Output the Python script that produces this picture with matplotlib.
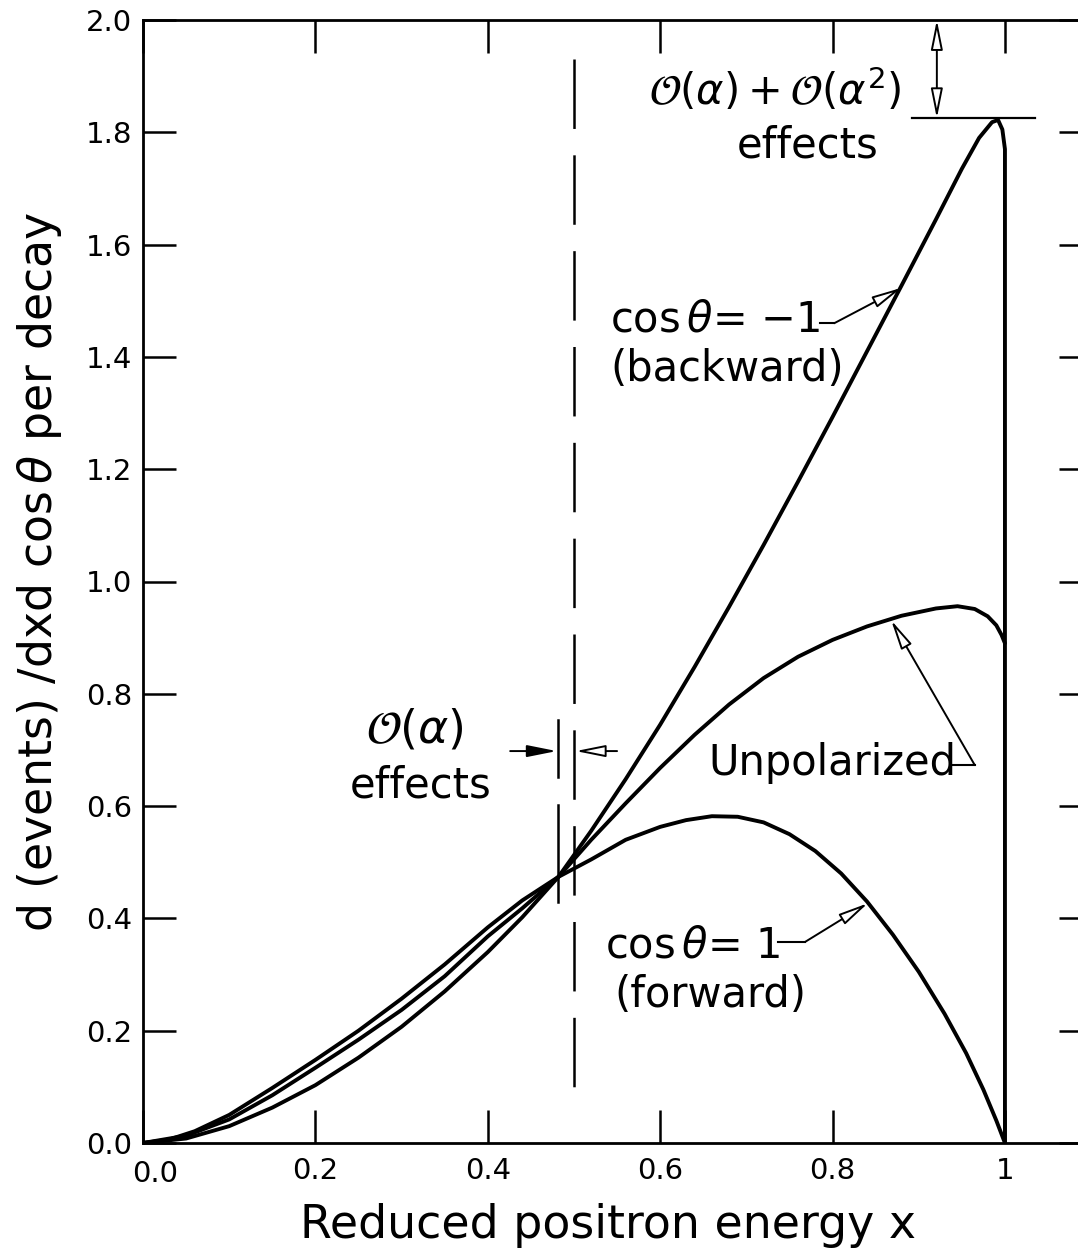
import matplotlib
matplotlib.use('Agg')
import matplotlib.pyplot as plt

plt.rcParams['font.family'] = ['DejaVu Sans']
plt.rcParams['mathtext.fontset'] = 'dejavusans'
plt.rcParams['lines.scale_dashes'] = False

# ---- data ----
forward_x = [0.0, 0.03, 0.06, 0.10, 0.15, 0.20, 0.25, 0.30, 0.35, 0.40, 0.44, 0.482,
             0.52, 0.56, 0.60, 0.63, 0.66, 0.69, 0.72, 0.75, 0.78, 0.81, 0.84, 0.87,
             0.90, 0.93, 0.955, 0.975, 0.99, 1.0]
forward_y = [0.0, 0.006, 0.021, 0.050, 0.098, 0.148, 0.200, 0.257, 0.318, 0.384, 0.432, 0.474,
             0.505, 0.540, 0.563, 0.575, 0.582, 0.581, 0.571, 0.550, 0.520, 0.480, 0.430, 0.371,
             0.305, 0.230, 0.160, 0.095, 0.040, 0.0]

unpol_x = [0.0, 0.05, 0.10, 0.15, 0.20, 0.25, 0.30, 0.35, 0.40, 0.44, 0.482,
           0.52, 0.56, 0.60, 0.64, 0.68, 0.72, 0.76, 0.80, 0.84, 0.88, 0.92, 0.945,
           0.965, 0.98, 0.99, 0.996, 1.0]
unpol_y = [0.0, 0.013, 0.042, 0.085, 0.134, 0.184, 0.237, 0.297, 0.368, 0.418, 0.474,
           0.540, 0.605, 0.668, 0.727, 0.781, 0.828, 0.866, 0.896, 0.920, 0.939, 0.952, 0.956,
           0.951, 0.938, 0.922, 0.905, 0.890]

back_x = [0.0, 0.05, 0.10, 0.15, 0.20, 0.25, 0.30, 0.35, 0.40, 0.44, 0.482,
          0.52, 0.56, 0.60, 0.64, 0.68, 0.72, 0.76, 0.80, 0.84, 0.88, 0.92, 0.95,
          0.97, 0.985, 0.992, 0.997, 1.0, 1.0]
back_y = [0.0, 0.008, 0.030, 0.063, 0.103, 0.152, 0.207, 0.270, 0.340, 0.402, 0.474,
          0.556, 0.648, 0.745, 0.848, 0.955, 1.065, 1.178, 1.293, 1.410, 1.527, 1.645, 1.735,
          1.790, 1.818, 1.822, 1.805, 1.770, 0.0]

x_ticks = [0.0, 0.2, 0.4, 0.6, 0.8, 1.0]
x_ticklabels = ['', '0.2', '0.4', '0.6', '0.8', '1']
y_ticks = [0.0, 0.2, 0.4, 0.6, 0.8, 1.0, 1.2, 1.4, 1.6, 1.8, 2.0]
y_ticklabels = ['0.0', '0.2', '0.4', '0.6', '0.8', '1.0', '1.2', '1.4', '1.6', '1.8', '2.0']

W, H = 1078, 1256
fig = plt.figure(figsize=(W / 100, H / 100), dpi=100)
ax = fig.add_axes([143 / W, (H - 1143) / H, (1092 - 143) / W, (1143 - 20) / H])
ax.set_xlim(0, 1.101)
ax.set_ylim(0, 2.0)

for s in ax.spines.values():
    s.set_linewidth(2.0)

ax.set_xticks(x_ticks)
ax.set_xticklabels(x_ticklabels)
ax.set_yticks(y_ticks)
ax.set_yticklabels(y_ticklabels)
ax.tick_params(axis='both', which='major', direction='in', length=24, width=1.8,
               labelsize=21, top=True, right=True)
ax.tick_params(axis='x', pad=10)
ax.tick_params(axis='y', pad=8)
ax.annotate('0.0', xy=(0, 0), xytext=(9, -12), textcoords='offset points',
            ha='center', va='top', fontsize=21)

lw = 2.8
for xs, ys in [(forward_x, forward_y), (unpol_x, unpol_y), (back_x, back_y)]:
    ax.plot(xs, ys, color='black', lw=lw, solid_joinstyle='round', solid_capstyle='round')

# dashed line at x = 0.5 and the O(alpha) marker line
ax.plot([0.5, 0.5], [1.93, 0.07], color='black', lw=1.8, dashes=[50, 19])
ax.plot([0.482, 0.482], [0.753, 0.652], color='black', lw=1.8)
ax.plot([0.482, 0.482], [0.602, 0.429], color='black', lw=1.8)

ap = dict(arrowstyle='-|>,head_length=0.9,head_width=0.18', fc='white', ec='black',
          lw=1.4, shrinkA=0, shrinkB=0, mutation_scale=20)
apf = dict(arrowstyle='-|>,head_length=0.9,head_width=0.18', fc='black', ec='black',
           lw=1.4, shrinkA=0, shrinkB=0, mutation_scale=20)

# O(alpha) arrows
ax.annotate('', xy=(0.480, 0.698), xytext=(0.426, 0.698), arrowprops=apf)
ax.annotate('', xy=(0.502, 0.698), xytext=(0.550, 0.698), arrowprops=ap)
ax.text(0.315, 0.735, r'$\mathcal{O}(\alpha)$', ha='center', va='center', fontsize=33)
ax.text(0.322, 0.637, 'effects', ha='center', va='center', fontsize=30)

# top O(alpha)+O(alpha^2)
ax.plot([0.892, 1.035], [1.825, 1.825], color='black', lw=1.6)
ap2 = dict(arrowstyle='<|-|>,head_length=0.9,head_width=0.18', fc='white', ec='black',
           lw=1.4, shrinkA=0, shrinkB=0, mutation_scale=20)
ax.annotate('', xy=(0.921, 1.825), xytext=(0.921, 2.0), arrowprops=ap2)
ax.text(0.734, 1.875, r'$\mathcal{O}(\alpha)+\mathcal{O}(\alpha^2)$', ha='center', va='center',
        fontsize=30)
ax.text(0.771, 1.776, 'effects', ha='center', va='center', fontsize=30)

# backward label
ax.text(0.664, 1.466, r'cos$\,\theta$= $-$1', ha='center', va='center', fontsize=30)
ax.text(0.678, 1.378, '(backward)', ha='center', va='center', fontsize=30)
ax.plot([0.785, 0.802], [1.460, 1.460], color='black', lw=1.5)
ax.annotate('', xy=(0.880, 1.523), xytext=(0.802, 1.460), arrowprops=ap)

# unpolarized label
ax.text(0.800, 0.677, 'Unpolarized', ha='center', va='center', fontsize=30)
ax.plot([0.940, 0.965], [0.673, 0.673], color='black', lw=1.5)
ax.annotate('', xy=(0.868, 0.931), xytext=(0.965, 0.673), arrowprops=ap)

# forward label
ax.text(0.638, 0.351, r'cos$\,\theta$= 1', ha='center', va='center', fontsize=30)
ax.text(0.658, 0.264, '(forward)', ha='center', va='center', fontsize=30)
ax.plot([0.737, 0.768], [0.358, 0.358], color='black', lw=1.5)
ax.annotate('', xy=(0.841, 0.427), xytext=(0.768, 0.358), arrowprops=ap)

fig.text(608 / W, 1 - 1225 / H, 'Reduced positron energy x', ha='center', va='center',
         fontsize=33)
fig.text(40 / W, 1 - 572 / H, r'd (events) /dxd cos$\,\theta$ per decay', ha='center',
         va='center', rotation=90, fontsize=33)

fig.savefig('out.png', dpi=100)
